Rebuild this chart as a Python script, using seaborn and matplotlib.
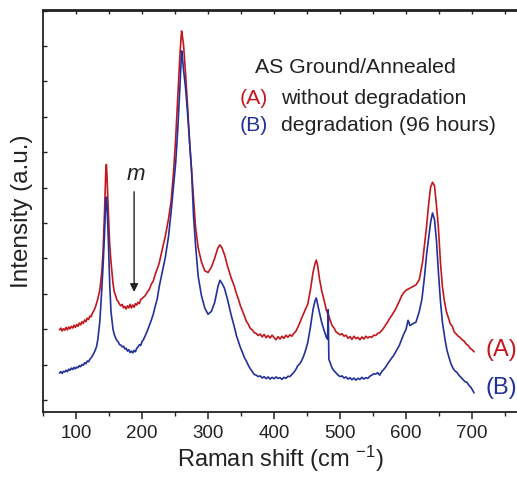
import numpy as np
import pandas as pd
import matplotlib
matplotlib.use("Agg")
import matplotlib.pyplot as plt
import seaborn as sns

# Raman spectrum (A): without degradation
shift_a = [75, 77, 79, 81, 83, 85, 87, 89, 91, 93, 95, 97, 99, 101, 103, 105, 107, 109, 111, 113,
           115, 117, 119, 121, 123, 125, 127, 129, 131, 133, 136, 139, 141, 143, 145, 146, 147, 149, 151, 153,
           156, 158, 160, 162, 164, 166, 168, 170, 172, 174, 176, 178, 180, 182, 184, 186, 188, 190, 192, 194,
           196, 198, 200, 202, 205, 208, 211, 214, 217, 220, 223, 226, 230, 235, 240, 244, 248, 251, 254, 257,
           259, 260, 261, 263, 266, 269, 272, 275, 278, 281, 285, 290, 295, 300, 305, 310, 315, 318, 321, 325,
           330, 335, 340, 343, 346, 349, 352, 355, 358, 361, 364, 367, 370, 373, 376, 379, 382, 385, 388, 391,
           394, 397, 400, 403, 406, 409, 412, 415, 418, 421, 424, 427, 430, 433, 436, 439, 442, 445, 448, 451,
           455, 459, 462, 464, 466, 469, 472, 476, 479, 481, 483, 485, 488, 491, 494, 497, 500, 503, 506, 509,
           512, 515, 518, 521, 524, 527, 530, 533, 536, 539, 542, 545, 548, 551, 554, 557, 560, 563, 566, 569,
           572, 575, 578, 581, 584, 587, 590, 593, 596, 600, 605, 610, 615, 620, 625, 628, 631, 634, 637, 640,
           643, 646, 649, 652, 655, 658, 661, 664, 667, 670, 673, 676, 679, 682, 685, 688, 691, 694, 697, 700,
           703]
intensity_a = [1.98, 2.03, 1.95, 2.01, 1.97, 2.05, 1.98, 2.06, 2.01, 2.08, 2.03, 2.11, 2.05, 2.13, 2.08, 2.17, 2.12, 2.21, 2.16, 2.26,
               2.21, 2.31, 2.27, 2.37, 2.35, 2.46, 2.52, 2.60, 2.72, 2.85, 3.10, 3.60, 4.20, 5.20, 6.40, 6.65, 6.30, 5.30, 4.40, 3.90,
               3.30, 3.05, 2.95, 2.82, 2.78, 2.70, 2.66, 2.70, 2.60, 2.64, 2.57, 2.66, 2.60, 2.70, 2.60, 2.68, 2.62, 2.72, 2.68, 2.76,
               2.72, 2.84, 2.86, 2.90, 2.95, 3.05, 3.12, 3.27, 3.36, 3.55, 3.70, 3.86, 4.20, 4.60, 5.10, 5.60, 6.50, 7.40, 8.50, 9.60,
               10.20, 10.42, 10.30, 10.00, 9.20, 8.30, 7.30, 6.50, 5.70, 4.90, 4.30, 3.90, 3.65, 3.60, 3.75, 4.00, 4.30, 4.38, 4.30, 4.10,
               3.75, 3.45, 3.20, 3.00, 2.85, 2.66, 2.52, 2.38, 2.22, 2.14, 2.02, 1.98, 1.90, 1.88, 1.82, 1.86, 1.78, 1.85, 1.76, 1.82,
               1.75, 1.83, 1.76, 1.70, 1.79, 1.72, 1.80, 1.74, 1.83, 1.77, 1.84, 1.80, 1.88, 1.94, 2.05, 2.18, 2.32, 2.45, 2.58, 2.70,
               3.10, 3.60, 3.85, 3.95, 3.80, 3.40, 3.10, 2.80, 2.55, 2.45, 2.38, 2.25, 2.10, 2.03, 1.92, 1.88, 1.84, 1.87, 1.80, 1.83,
               1.74, 1.79, 1.71, 1.80, 1.73, 1.77, 1.70, 1.78, 1.72, 1.80, 1.75, 1.79, 1.77, 1.83, 1.82, 1.88, 1.90, 1.96, 2.03, 2.12,
               2.20, 2.30, 2.38, 2.47, 2.56, 2.68, 2.80, 2.93, 3.02, 3.10, 3.15, 3.20, 3.25, 3.40, 3.90, 4.40, 4.90, 5.50, 6.00, 6.15,
               6.05, 5.50, 4.85, 3.90, 3.20, 2.80, 2.50, 2.32, 2.15, 2.08, 1.92, 1.86, 1.80, 1.76, 1.70, 1.66, 1.58, 1.54, 1.46, 1.42,
               1.36]

# Raman spectrum (B): degradation (96 hours)
shift_b = [75, 77, 79, 81, 83, 85, 87, 89, 91, 93, 95, 97, 99, 101, 103, 105, 107, 109, 111, 113,
           115, 117, 119, 121, 123, 125, 127, 129, 131, 133, 136, 139, 141, 143, 145, 146, 147, 149, 151, 153,
           156, 158, 160, 162, 164, 166, 168, 170, 172, 174, 176, 178, 180, 182, 184, 186, 188, 190, 192, 194,
           196, 198, 200, 202, 205, 208, 211, 214, 217, 220, 223, 226, 230, 235, 240, 244, 248, 251, 254, 257,
           259, 260, 261, 263, 266, 269, 272, 275, 278, 281, 285, 290, 295, 300, 305, 310, 315, 318, 321, 325,
           330, 335, 340, 343, 346, 349, 352, 355, 358, 361, 364, 367, 370, 373, 376, 379, 382, 385, 388, 391,
           394, 397, 400, 403, 406, 409, 412, 415, 418, 421, 424, 427, 430, 433, 436, 439, 442, 445, 448, 451,
           455, 459, 462, 464, 466, 469, 472, 476, 479, 481, 482, 483, 485, 488, 491, 494, 497, 500, 503, 506,
           509, 512, 515, 518, 521, 524, 527, 530, 533, 536, 539, 542, 545, 548, 551, 554, 557, 560, 563, 566,
           569, 572, 575, 578, 581, 584, 587, 590, 593, 596, 600, 603, 606, 610, 615, 620, 624, 628, 631, 634,
           637, 640, 643, 646, 649, 652, 655, 659, 662, 665, 668, 671, 674, 677, 680, 683, 686, 689, 692, 695,
           698, 700, 703]
intensity_b = [0.76, 0.80, 0.75, 0.81, 0.79, 0.84, 0.80, 0.87, 0.84, 0.90, 0.86, 0.92, 0.88, 0.93, 0.91, 0.97, 0.94, 1.00, 0.98, 1.05,
               1.02, 1.10, 1.08, 1.15, 1.19, 1.25, 1.32, 1.40, 1.50, 1.70, 2.20, 3.10, 3.80, 4.60, 5.55, 5.73, 5.50, 4.50, 3.30, 2.50,
               2.00, 1.85, 1.75, 1.68, 1.64, 1.56, 1.55, 1.50, 1.52, 1.44, 1.46, 1.38, 1.42, 1.34, 1.38, 1.33, 1.40, 1.36, 1.46, 1.50,
               1.56, 1.54, 1.65, 1.70, 1.82, 1.95, 2.10, 2.25, 2.42, 2.65, 2.85, 3.20, 3.55, 4.00, 4.60, 5.30, 6.10, 6.70, 7.60, 8.70,
               9.50, 9.86, 9.70, 9.30, 8.80, 8.10, 7.30, 6.50, 5.20, 4.40, 3.50, 2.95, 2.60, 2.42, 2.50, 2.75, 3.20, 3.38, 3.30, 3.15,
               2.80, 2.40, 2.05, 1.82, 1.65, 1.48, 1.35, 1.20, 1.10, 0.98, 0.88, 0.80, 0.72, 0.70, 0.66, 0.68, 0.62, 0.66, 0.60, 0.65,
               0.59, 0.64, 0.60, 0.65, 0.61, 0.63, 0.58, 0.64, 0.61, 0.67, 0.66, 0.72, 0.78, 0.86, 0.97, 1.02, 1.12, 1.25, 1.42, 1.62,
               2.05, 2.55, 2.80, 2.88, 2.70, 2.45, 2.20, 1.95, 1.78, 1.72, 2.55, 1.15, 1.05, 0.90, 0.82, 0.76, 0.70, 0.66, 0.68, 0.62,
               0.65, 0.59, 0.63, 0.57, 0.62, 0.56, 0.61, 0.58, 0.64, 0.59, 0.63, 0.61, 0.67, 0.70, 0.74, 0.73, 0.77, 0.70, 0.80, 0.86,
               0.93, 1.02, 1.10, 1.18, 1.25, 1.35, 1.45, 1.55, 1.70, 1.84, 2.00, 2.25, 2.10, 2.15, 2.20, 2.50, 2.85, 3.50, 4.10, 4.55,
               5.00, 5.28, 5.10, 4.50, 3.60, 2.80, 2.20, 1.70, 1.40, 1.20, 1.02, 0.90, 0.82, 0.78, 0.70, 0.64, 0.58, 0.52, 0.50, 0.42,
               0.36, 0.30, 0.20]

x_ticks = [100, 200, 300, 400, 500, 600, 700]

red = "#C4161C"
blue = "#22319A"
ink = "#222222"

sns.set_style("ticks")
plt.rcParams["font.family"] = ["Liberation Sans", "DejaVu Sans"]
plt.rcParams["mathtext.default"] = "regular"

W, H = 517, 478
fig = plt.figure(figsize=(W / 100, H / 100), dpi=100)
ax = fig.add_axes([43 / W, 66 / H, 474 / W, 401.5 / H])

df_a = pd.DataFrame({"shift": shift_a, "intensity": intensity_a})
df_b = pd.DataFrame({"shift": shift_b, "intensity": intensity_b})
sns.lineplot(data=df_a, x="shift", y="intensity", ax=ax, color=red, lw=1.2,
             estimator=None, sort=False)
sns.lineplot(data=df_b, x="shift", y="intensity", ax=ax, color=blue, lw=1.2,
             estimator=None, sort=False)

ax.set_xlim(50, 768)
ax.set_ylim(-0.34, 11.0)

# axes frame: left/bottom/top, no right spine
for side in ["left", "bottom", "top"]:
    ax.spines[side].set_color(ink)
    ax.spines[side].set_linewidth(1.3)
ax.spines["right"].set_visible(False)

ax.set_xticks(x_ticks)
ax.set_xticks(np.arange(50, 770, 50), minor=True)
ax.set_yticks(np.arange(0, 12, 1))
ax.set_yticklabels([])
ax.tick_params(axis="x", which="major", direction="out", length=5, width=1.1,
               color=ink, labelsize=13.5, labelcolor=ink, pad=4)
ax.tick_params(axis="x", which="minor", direction="out", length=3, width=1.0, color=ink)
ax.tick_params(axis="y", which="major", direction="in", length=3, width=1.0, color=ink)

# inward ticks along the top edge
top = ax.secondary_xaxis("top")
top.set_xticks(np.arange(100, 770, 50))
top.tick_params(direction="in", length=3, width=1.0, color=ink, labeltop=False)
top.spines["top"].set_linewidth(1.3)
top.spines["top"].set_color(ink)

ax.set_xlabel("Raman shift (cm $^{-1}$)", fontsize=17, color=ink, labelpad=2)
ax.set_ylabel("Intensity (a.u.)", fontsize=17.5, color=ink, labelpad=4)

# heading and key
fig.text(255 / W, 1 - 73 / H, "AS Ground/Annealed", fontsize=15.3, color=ink,
         ha="left", va="baseline")
fig.text(240 / W, 1 - 104 / H, "(A)", fontsize=15.3, color=red, ha="left", va="baseline")
fig.text(281 / W, 1 - 104 / H, "without degradation", fontsize=15.3, color=ink,
         ha="left", va="baseline")
fig.text(240 / W, 1 - 131 / H, "(B)", fontsize=15.3, color=blue, ha="left", va="baseline")
fig.text(281 / W, 1 - 131 / H, "degradation (96 hours)", fontsize=15.3, color=ink,
         ha="left", va="baseline")

# series labels at the right end
ax.text(744, 1.41, "(A)", fontsize=17, color=red, ha="center", va="center")
ax.text(744, 0.34, "(B)", fontsize=17, color=blue, ha="center", va="center")

# marker for the m band
ax.annotate("", xy=(188, 3.05), xytext=(188, 5.88),
            arrowprops=dict(arrowstyle="-|>", color=ink, lw=1.0,
                            mutation_scale=12, shrinkA=0, shrinkB=0))
ax.text(190, 6.36, "m", fontsize=16, style="italic", color=ink, ha="center", va="center")

fig.savefig("out.png", dpi=100)
